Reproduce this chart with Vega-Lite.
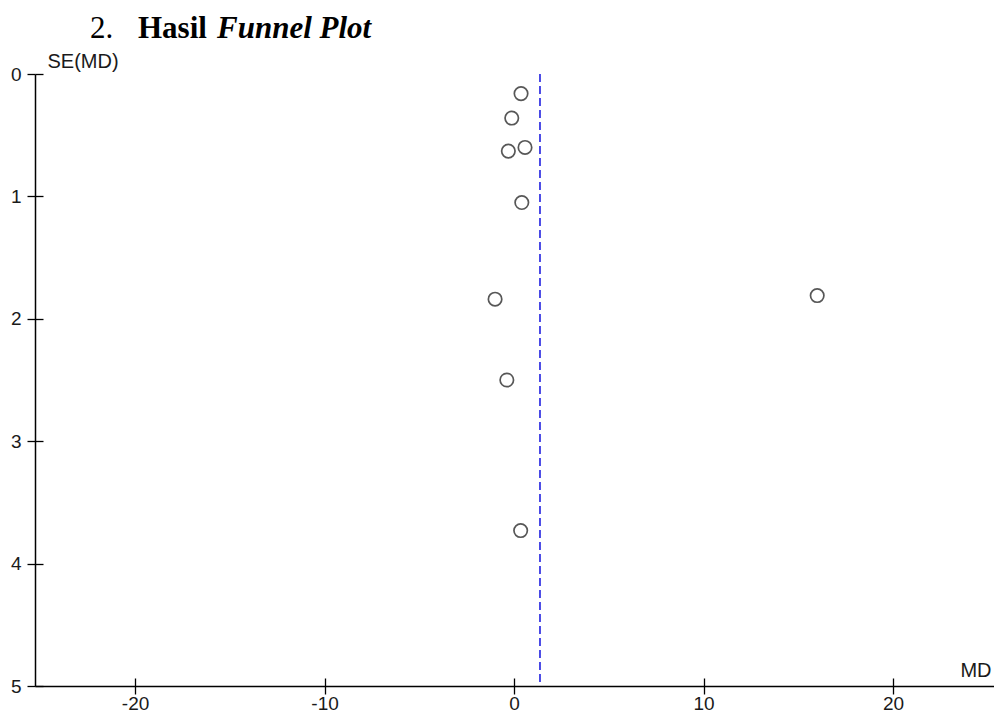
{
  "$schema": "https://vega.github.io/schema/vega-lite/v6.json",
  "width": 959,
  "height": 612,
  "autosize": {"type": "none"},
  "padding": {"left": 35, "top": 74, "right": 0, "bottom": 27},
  "background": "white",
  "config": {
    "view": {"stroke": null},
    "axis": {
      "grid": false,
      "domainColor": "black",
      "domainWidth": 1.5,
      "tickColor": "black",
      "tickWidth": 1.3,
      "labelFont": "Liberation Sans",
      "labelFontSize": 19,
      "labelColor": "#1a1a1a",
      "titleFont": "Liberation Sans",
      "titleFontSize": 20,
      "titleFontWeight": "normal",
      "titleColor": "#1a1a1a"
    }
  },
  "resolve": {"axis": {"x": "independent", "y": "independent"}},
  "layer": [
    {
      "data": {"values": [{"md": 1.37}]},
      "mark": {"type": "rule", "color": "#2020e0", "strokeWidth": 1.6, "strokeDash": [8, 4]},
      "encoding": {
        "x": {"field": "md", "type": "quantitative", "scale": {"domain": [-25.28, 25.33], "nice": false, "zero": false}, "axis": null}
      }
    },
    {
      "data": {"values": [
        {"md": 0.37, "se": 0.16},
        {"md": -0.12, "se": 0.36},
        {"md": 0.58, "se": 0.6},
        {"md": -0.3, "se": 0.63},
        {"md": 0.41, "se": 1.05},
        {"md": -1.0, "se": 1.84},
        {"md": 16.0, "se": 1.81},
        {"md": -0.38, "se": 2.5},
        {"md": 0.35, "se": 3.73}
      ]},
      "mark": {"type": "point", "shape": "circle", "filled": false, "stroke": "#111111", "strokeWidth": 1.7, "size": 180},
      "encoding": {
        "x": {
          "field": "md", "type": "quantitative",
          "scale": {"domain": [-25.28, 25.33], "nice": false, "zero": false},
          "axis": {"orient": "bottom", "values": [-20, -10, 0, 10, 20], "labelExpr": "replace(datum.label, '\u2212', '-')", "tickSize": 8, "labelBaseline": "alphabetic", "labelPadding": 15, "title": "MD", "titleX": 956, "titleY": -16, "titleAlign": "right", "titleBaseline": "middle"}
        },
        "y": {
          "field": "se", "type": "quantitative",
          "scale": {"domain": [0, 5], "reverse": true, "nice": false, "zero": false},
          "axis": {"orient": "left", "values": [0, 1, 2, 3, 4, 5], "tickSize": 8, "labelPadding": 6, "title": "SE(MD)", "titleAngle": 0, "titleX": 12, "titleY": -13, "titleAlign": "left", "titleBaseline": "middle"}
        }
      }
    },
    {
      "data": {"values": [
        {"md": 0.37, "se": 0.16},
        {"md": 16.0, "se": 1.81}
      ]},
      "mark": {"type": "point", "opacity": 0},
      "encoding": {
        "x": {
          "field": "md", "type": "quantitative",
          "scale": {"domain": [-25.28, 25.33], "nice": false, "zero": false},
          "axis": {"orient": "bottom", "offset": -8, "values": [-20, -10, 0, 10, 20], "tickSize": 8, "labels": false, "domain": false, "title": null}
        },
        "y": {
          "field": "se", "type": "quantitative",
          "scale": {"domain": [0, 5], "reverse": true, "nice": false, "zero": false},
          "axis": {"orient": "left", "offset": -8, "values": [0, 1, 2, 3, 4, 5], "tickSize": 8, "labels": false, "domain": false, "title": null}
        }
      }
    },
    {
      "data": {"values": [{}]},
      "mark": {"type": "text", "text": "2.", "x": 55, "y": -36, "font": "Liberation Serif", "fontSize": 31, "align": "left", "baseline": "alphabetic", "color": "black"},
      "encoding": {}
    },
    {
      "data": {"values": [{}]},
      "mark": {"type": "text", "text": "Hasil", "x": 103, "y": -36, "font": "Liberation Serif", "fontSize": 31, "fontWeight": "bold", "align": "left", "baseline": "alphabetic", "color": "black"},
      "encoding": {}
    },
    {
      "data": {"values": [{}]},
      "mark": {"type": "text", "text": "Funnel Plot", "x": 182, "y": -36, "font": "Liberation Serif", "fontSize": 31, "fontWeight": "bold", "fontStyle": "italic", "align": "left", "baseline": "alphabetic", "color": "black"},
      "encoding": {}
    }
  ]
}
